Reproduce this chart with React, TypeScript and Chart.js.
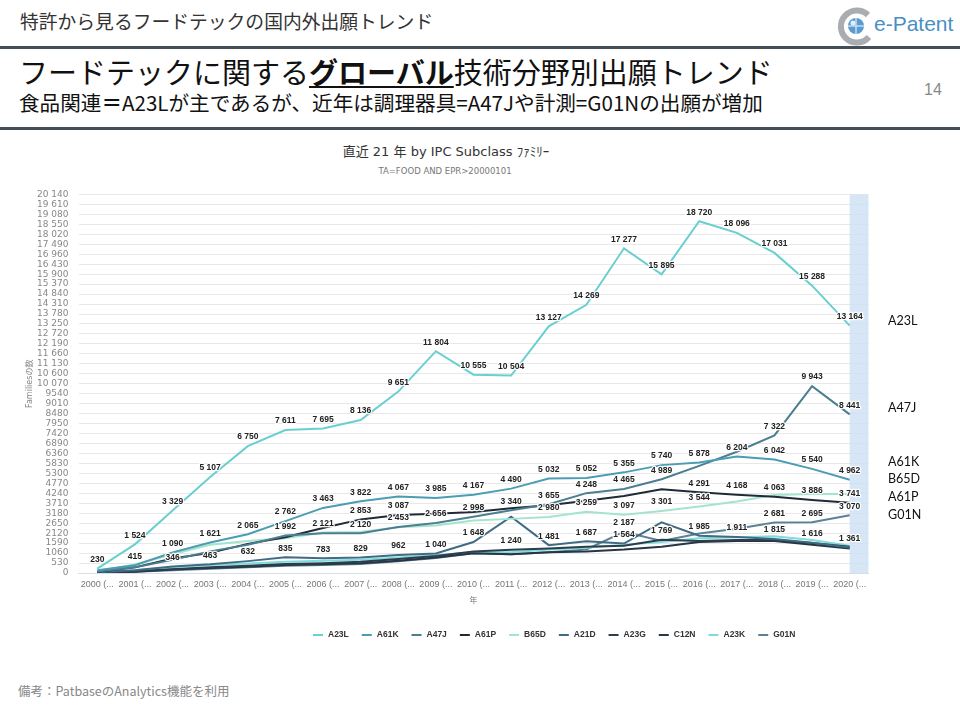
import React, { useEffect, useRef } from "react";
import { Chart, registerables } from "chart.js";

Chart.register(...registerables);

// ---- data ----
const categories = [
  "2000 (...", "2001 (...", "2002 (...", "2003 (...", "2004 (...", "2005 (...", "2006 (...",
  "2007 (...", "2008 (...", "2009 (...", "2010 (...", "2011 (...", "2012 (...", "2013 (...",
  "2014 (...", "2015 (...", "2016 (...", "2017 (...", "2018 (...", "2019 (...", "2020 (...",
];

const seriesNames = ["A23L", "A61K", "A47J", "A61P", "B65D", "A21D", "A23G", "C12N", "A23K", "G01N"];
const seriesColors = ["#69cfd0", "#4a9db3", "#4b7e91", "#1f2a36", "#a3e4cf", "#3f6c84", "#2c3d4c", "#263645", "#80dcdc", "#5b8196"];

const a23l = [230, 1524, 3329, 5107, 6750, 7611, 7695, 8136, 9651, 11804, 10555, 10504, 13127, 14269, 17277, 15895, 18720, 18096, 17031, 15288, 13164];
const a61k = [150, 415, 1090, 1621, 2065, 2762, 3463, 3822, 4067, 3985, 4167, 4490, 5032, 5052, 5355, 5740, 5878, 6204, 6042, 5540, 4962];
const a47j = [80, 300, 700, 1150, 1500, 1992, 2121, 2120, 2453, 2656, 2998, 3340, 3655, 4248, 4465, 4989, 5700, 6450, 7322, 9943, 8441];
const a61p = [60, 300, 770, 1070, 1550, 1900, 2390, 2853, 3087, 3150, 3250, 3450, 3600, 3850, 4100, 4450, 4291, 4168, 4063, 3886, 3741];
const b65d = [100, 450, 1000, 1500, 1700, 1850, 2150, 2180, 2440, 2530, 2790, 2880, 2980, 3259, 3097, 3301, 3544, 3800, 4150, 4200, 4200];
const a21d = [40, 150, 346, 463, 632, 835, 783, 829, 962, 1040, 1648, 3000, 1481, 1687, 1564, 2700, 1985, 1911, 1815, 1616, 1361];
const a23g = [15, 90, 200, 300, 380, 480, 520, 600, 750, 900, 1150, 1240, 1300, 1400, 1450, 1769, 1700, 1750, 1750, 1600, 1400];
const c12n = [10, 70, 180, 260, 330, 420, 470, 520, 650, 820, 1050, 1000, 1100, 1150, 1250, 1400, 1650, 1700, 1700, 1500, 1300];
const a23k = [25, 150, 300, 420, 500, 600, 650, 700, 820, 950, 1100, 1100, 1250, 1350, 1500, 1650, 1850, 1900, 1950, 1750, 1450];
const g01n = [10, 60, 140, 220, 300, 380, 420, 480, 620, 800, 1050, 1000, 1100, 1250, 2187, 1700, 2100, 2350, 2681, 2695, 3070];

const seriesValues = [a23l, a61k, a47j, a61p, b65d, a21d, a23g, c12n, a23k, g01n];

const yMax = 20140;
const yStep = 530;

const rightLabels = ["A23L", "A47J", "A61K", "B65D", "A61P", "G01N"];

const fmtSpace = (n: number) => String(n).replace(/\B(?=(\d{3})+(?!\d))/g, " ");

export default function App() {
  const ref = useRef<HTMLCanvasElement>(null);

  useEffect(() => {
    const canvas = ref.current;
    if (!canvas) return;

    const bandPlugin = {
      id: "band",
      beforeDatasetsDraw(chart: any) {
        const { ctx, chartArea, scales } = chart;
        const x0 = scales.x.getPixelForValue(categories.length - 1);
        ctx.save();
        ctx.fillStyle = "rgba(205,224,244,0.8)";
        ctx.fillRect(x0, chartArea.top, chartArea.right - x0, chartArea.bottom - chartArea.top);
        ctx.restore();
      },
    };

    const labelPlugin = {
      id: "dlabels",
      afterDatasetsDraw(chart: any) {
        const { ctx } = chart;
        ctx.save();
        ctx.font = "bold 8.5px 'Liberation Sans', Arial, sans-serif";
        ctx.textAlign = "center";
        ctx.textBaseline = "middle";
        const boxes: { x: number; y: number; w: number; h: number }[] = [];
        chart.data.datasets.forEach((ds: any, di: number) => {
          const meta = chart.getDatasetMeta(di);
          meta.data.forEach((pt: any, i: number) => {
            const v = ds.data[i] as number;
            const txt = fmtSpace(v);
            const w = ctx.measureText(txt).width;
            const cx = pt.x;
            const cy = pt.y - 9;
            const h = 11.5;
            const b = { x: cx - w / 2, y: cy - h / 2, w, h };
            const hit = boxes.some(
              (o) => b.x < o.x + o.w && b.x + b.w > o.x && b.y < o.y + o.h && b.y + b.h > o.y
            );
            if (hit) return;
            boxes.push(b);
            ctx.lineWidth = 2.5;
            ctx.strokeStyle = "rgba(255,255,255,0.9)";
            ctx.lineJoin = "round";
            ctx.strokeText(txt, cx, cy);
            ctx.fillStyle = "#222";
            ctx.fillText(txt, cx, cy);
          });
        });
        ctx.restore();
      },
    };

    const legendPlugin = {
      id: "customLegend",
      afterDraw(chart: any) {
        const { ctx } = chart;
        ctx.save();
        ctx.font = "bold 8.5px 'Liberation Sans', Arial, sans-serif";
        ctx.textBaseline = "middle";
        ctx.textAlign = "left";
        let x = 313;
        const y = 455;
        chart.data.datasets.forEach((ds: any) => {
          ctx.strokeStyle = ds.borderColor;
          ctx.lineWidth = 2;
          ctx.beginPath();
          ctx.moveTo(x, y);
          ctx.lineTo(x + 10, y);
          ctx.stroke();
          ctx.fillStyle = "#333";
          ctx.fillText(ds.label, x + 15, y);
          x += 15 + ctx.measureText(ds.label).width + 13;
        });
        ctx.restore();
      },
    };

    const chart = new Chart(canvas, {
      type: "line",
      data: {
        labels: categories,
        datasets: seriesNames.map((name, i) => ({
          label: name,
          data: seriesValues[i],
          borderColor: seriesColors[i],
          backgroundColor: seriesColors[i],
          borderWidth: 2,
          pointRadius: 0,
          pointHoverRadius: 0,
          tension: 0,
          fill: false,
        })),
      },
      options: {
        responsive: false,
        animation: false,
        events: [],
        layout: { padding: { top: 11, right: 91.5, bottom: 47, left: 0 } },
        plugins: {
          legend: { display: false },
          tooltip: { enabled: false },
          title: { display: false },
        },
        scales: {
          x: {
            type: "category",
            offset: true,
            grid: { display: false, drawTicks: false },
            border: { display: true, color: "#d8dde6" },
            ticks: {
              autoSkip: false,
              maxRotation: 0,
              minRotation: 0,
              padding: 6,
              color: "#777",
              font: { family: "'Liberation Sans', Arial, sans-serif", size: 9 },
            },
            title: {
              display: true,
              text: "年",
              color: "#777",
              font: { family: "'Noto Sans CJK JP', sans-serif", size: 8 },
              padding: { top: 0, bottom: 8 },
            },
            afterFit: (s: any) => {
              s.height = 40;
            },
          },
          y: {
            min: 0,
            max: yMax,
            grid: { color: "#e8e8e8", drawTicks: false },
            border: { display: false },
            ticks: {
              stepSize: yStep,
              autoSkip: false,
              padding: 10,
              color: "#888",
              font: { family: "'DejaVu Sans', sans-serif", size: 9, lineHeight: 1 },
              callback: (v: any) => (Number(v) >= 10000 ? fmtSpace(Number(v)) : String(v)),
            },
            title: {
              display: true,
              text: "Familiesの数",
              color: "#888",
              font: { family: "'DejaVu Sans', 'Noto Sans CJK JP', sans-serif", size: 8 },
              padding: { top: 25, bottom: 0 },
            },
            afterFit: (s: any) => {
              s.width = 78.5;
            },
          },
        },
      },
      plugins: [bandPlugin, labelPlugin, legendPlugin],
    });

    return () => chart.destroy();
  }, []);

  const jp = "'Noto Sans CJK JP', sans-serif";

  return (
    <div
      style={{
        position: "absolute",
        left: 0,
        top: 0,
        width: 960,
        height: 720,
        background: "#fff",
        overflow: "hidden",
        fontFamily: jp,
      }}
    >
      {/* header */}
      <div style={{ position: "absolute", left: 20, top: 10, fontSize: 18.8, lineHeight: "22px", color: "#333", whiteSpace: "nowrap" }}>
        特許から見るフードテックの国内外出願トレンド
      </div>
      {/* logo */}
      <svg style={{ position: "absolute", left: 836, top: 6 }} width={40} height={40} viewBox="0 0 40 40">
        <path d="M32 9 A16 16 0 1 0 33 31" fill="none" stroke="#a9adb1" strokeWidth={6} />
        <circle cx={20} cy={20} r={8} fill="#5b9bd0" />
        <path d="M20 12 L20 28 M12 20 L28 20" stroke="#c6ddef" strokeWidth={1.5} />
        <circle cx={17} cy={17} r={2.5} fill="#e3eef8" />
      </svg>
      <div style={{ position: "absolute", left: 874, top: 11, fontSize: 21, lineHeight: "26px", color: "#4a8fc4", fontFamily: "'Liberation Sans', Arial, sans-serif", whiteSpace: "nowrap" }}>
        e-Patent
      </div>
      <div style={{ position: "absolute", left: 0, top: 46, width: 960, height: 3, background: "#424f59" }} />
      {/* title */}
      <div style={{ position: "absolute", left: 19, top: 55, fontSize: 29, lineHeight: "33px", color: "#111", whiteSpace: "nowrap" }}>
        フードテックに関する<span style={{ fontWeight: 700, textDecoration: "underline" }}>グローバル</span>技術分野別出願トレンド
      </div>
      <div style={{ position: "absolute", left: 19, top: 90, fontSize: 20.6, lineHeight: "24px", color: "#111", whiteSpace: "nowrap" }}>
        食品関連<b>＝</b>A23Lが主であるが、近年は調理器具=A47Jや計測=G01Nの出願が増加
      </div>
      <div style={{ position: "absolute", left: 924, top: 80, fontSize: 16, lineHeight: "20px", color: "#888", fontFamily: "'Liberation Sans', Arial, sans-serif" }}>
        14
      </div>
      <div style={{ position: "absolute", left: 0, top: 127, width: 960, height: 3, background: "#424f59" }} />

      {/* chart title */}
      <div style={{ position: "absolute", left: 246, width: 400, top: 144, textAlign: "center", fontSize: 13, lineHeight: "16px", color: "#333", fontFamily: "'DejaVu Sans', 'Noto Sans CJK JP', sans-serif", whiteSpace: "nowrap" }}>
        直近 21 年 by IPC Subclass ﾌｧﾐﾘｰ
      </div>
      <div style={{ position: "absolute", left: 245, width: 400, top: 166, textAlign: "center", fontSize: 8.5, lineHeight: "10px", color: "#777", fontFamily: "'DejaVu Sans', sans-serif", whiteSpace: "nowrap" }}>
        TA=FOOD AND EPR&gt;20000101
      </div>

      <canvas
        ref={ref}
        width={960}
        height={480}
        style={{ position: "absolute", left: 0, top: 180, width: 960, height: 480 }}
      />

      {/* right-side labels */}
      {rightLabels.map((t, i) => {
        const tops = [313, 400, 454, 471, 489, 507];
        return (
          <div key={t} style={{ position: "absolute", left: 888, top: tops[i], fontSize: 12.5, lineHeight: "16px", color: "#111", fontFamily: "Lato, 'Open Sans', sans-serif" }}>
            {t}
          </div>
        );
      })}

      {/* footer */}
      <div style={{ position: "absolute", left: 18, top: 683, fontSize: 12.5, lineHeight: "16px", color: "#888", whiteSpace: "nowrap" }}>
        備考：PatbaseのAnalytics機能を利用
      </div>
    </div>
  );
}
